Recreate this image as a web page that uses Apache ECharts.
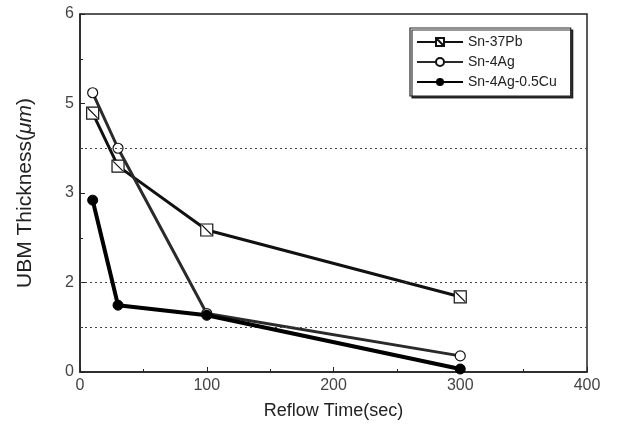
<!DOCTYPE html>
<html>
<head>
<meta charset="utf-8">
<script src="https://cdn.jsdelivr.net/npm/echarts@6/dist/echarts.min.js"></script>
<style>
  html, body { margin: 0; padding: 0; background: #fff; }
  #chart { width: 618px; height: 428px; }
</style>
</head>
<body>
<div id="chart"></div>
<script>
// reflow times (sec)
const reflowTimes = [10, 30, 100, 300];
// UBM thickness values
const snPb = [4.34, 3.45, 2.38, 1.26];
const snAg = [4.68, 3.75, 0.98, 0.27];
const snAgCu = [2.88, 1.12, 0.95, 0.05];
// y tick labels as printed (ticks at 0, 1.5, 3, 4.5, 6)
const yTickLabels = ['0', '2', '3', '5', '6'];
// dotted reference lines
const refLines = [0.75, 1.5, 3.75];

const pairs = (ys) => reflowTimes.map((x, i) => [x, ys[i]]);

// square with a diagonal stroke
const squareSymbol = 'path://M0,0 L10,0 L10,10 L0,10 Z M1,1 L9,9';

const chart = echarts.init(document.getElementById('chart'));

const font = 'Liberation Sans, Arial, sans-serif';

chart.setOption({
  animation: false,
  backgroundColor: '#fff',
  grid: {
    left: 80, right: 31, top: 14, bottom: 56,
    show: true, borderColor: '#222', borderWidth: 1.5
  },
  legend: {
    orient: 'vertical',
    left: 410, top: 28,
    itemWidth: 46, itemHeight: 10, itemGap: 6,
    padding: [7, 14, 7, 6],
    backgroundColor: '#fff',
    borderColor: '#222', borderWidth: 1.2,
    shadowColor: 'rgba(0,0,0,0.8)', shadowOffsetX: 2, shadowOffsetY: 2,
    textStyle: { fontFamily: font, fontSize: 14, color: '#222' },
    data: ['Sn-37Pb', 'Sn-4Ag', 'Sn-4Ag-0.5Cu']
  },
  xAxis: {
    type: 'value', min: 0, max: 400, interval: 100,
    name: 'Reflow Time(sec)', nameLocation: 'middle', nameGap: 30,
    nameTextStyle: { fontFamily: font, fontSize: 18, color: '#222' },
    axisLine: { onZero: false, lineStyle: { color: '#222', width: 1.5 } },
    axisTick: { inside: true, length: 5, lineStyle: { color: '#222' } },
    minorTick: { show: true, splitNumber: 2, length: 3, lineStyle: { color: '#222' } },
    axisLabel: { fontFamily: font, fontSize: 16, color: '#444', margin: 6 },
    splitLine: { show: false }
  },
  yAxis: {
    type: 'value', min: 0, max: 6, interval: 1.5,
    name: '{a|UBM Thickness(}{b|μm}{a|)}', nameLocation: 'middle', nameGap: 44,
    nameRotate: 90,
    nameTextStyle: {
      rich: {
        a: { fontFamily: font, fontSize: 21, color: '#222' },
        b: { fontFamily: font, fontSize: 21, color: '#222', fontStyle: 'italic' }
      }
    },
    axisLine: { lineStyle: { color: '#222', width: 1.5 } },
    axisTick: { inside: true, length: 5, lineStyle: { color: '#222' } },
    minorTick: { show: true, splitNumber: 2, length: 3, lineStyle: { color: '#222' } },
    axisLabel: {
      fontFamily: font, fontSize: 16, color: '#444', margin: 6,
      formatter: (v) => yTickLabels[Math.round(v / 1.5)]
    },
    splitLine: { show: false }
  },
  series: [
    {
      name: 'Sn-37Pb', type: 'line', data: pairs(snPb),
      symbol: squareSymbol, symbolSize: 12,
      lineStyle: { color: '#111', width: 3 },
      itemStyle: { color: '#fff', borderColor: '#111', borderWidth: 1.2 },
      z: 3,
      markLine: {
        silent: true, symbol: 'none', label: { show: false },
        lineStyle: { type: [2, 3], color: '#444', width: 1 },
        data: refLines.map((v) => ({ yAxis: v }))
      }
    },
    {
      name: 'Sn-4Ag', type: 'line', data: pairs(snAg),
      symbol: 'circle', symbolSize: 10,
      lineStyle: { color: '#2a2a2a', width: 3 },
      itemStyle: { color: '#fff', borderColor: '#111', borderWidth: 1.2 },
      z: 4
    },
    {
      name: 'Sn-4Ag-0.5Cu', type: 'line', data: pairs(snAgCu),
      symbol: 'circle', symbolSize: 10,
      lineStyle: { color: '#000', width: 4 },
      itemStyle: { color: '#000', borderColor: '#000' },
      z: 5
    }
  ]
});
</script>
</body>
</html>
